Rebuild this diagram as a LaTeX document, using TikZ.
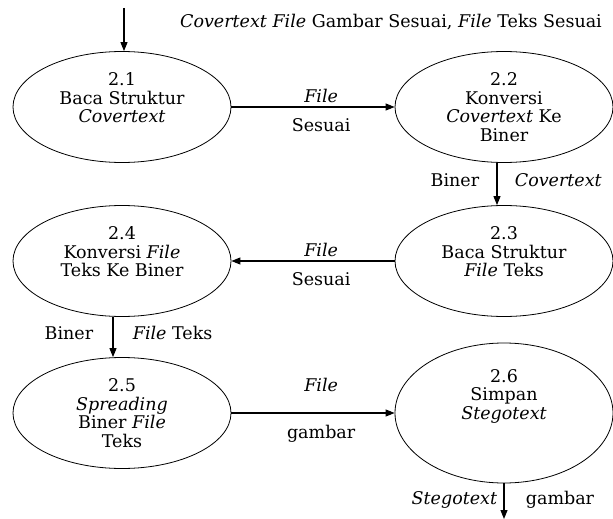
\documentclass[tikz,border=0pt]{standalone}
\usepackage{fontspec}
\setmainfont{DejaVu Serif}
\usetikzlibrary{arrows.meta, shapes, positioning}

\begin{document}
\begin{tikzpicture}[->,>={Triangle[length=9pt,width=7pt]},x=1pt,y=-1pt,
  line width=1.1pt, node distance=382pt,
  font=\fontsize{17.5}{18.5}\selectfont,
  proc node/.style={ellipse,draw,line width=0.8pt,inner sep=0pt,align=center,
    minimum width=218pt,minimum height=111pt}]
  \useasboundingbox (0,0) rectangle (613,519);
  \node[proc node] (21) at (122,107) {2.1\\Baca Struktur\\\textit{Covertext}\\\mbox{}};
  \node[proc node, right of = 21] (22) {2.2\\Konversi\\\textit{Covertext} Ke\\Biner};
  \node[proc node, below of = 22, node distance=154pt] (23) {2.3\\Baca Struktur\\\textit{File} Teks\\\mbox{}};
  \node[proc node, left of = 23] (24) {2.4\\Konversi \textit{File}\\Teks Ke Biner\\\mbox{}};
  \node[proc node, below of = 24, node distance=152pt] (25) {2.5\\\textit{Spreading}\\Biner \textit{File}\\Teks};
  \node[proc node, right of = 25, minimum height=140pt] (26) {2.6\\Simpan\\\textit{Stegotext}\\\mbox{}\\\mbox{}};
  \node[inner sep=0pt] (top) at (391,22) {\textit{Covertext File} Gambar Sesuai, \textit{File} Teks Sesuai};
  \coordinate (in) at (124,8);
  \coordinate (out) at (504,519);
  \path
    (in) edge (in |- 21.north)
    (21) edge node[pos=.55, above] {\textit{File}} node[pos=.55, below=8pt] {Sesuai} (22)
    ([xshift=-7pt]22.south) edge node[pos=.4, left=14pt] {Biner}
      node[pos=.4, right=14pt] {\textit{Covertext}} ([xshift=-7pt]22.south |- 23.north)
    (23) edge node[pos=.45, above] {\textit{File}} node[pos=.45, below=8pt] {Sesuai} (24)
    ([xshift=-9pt]24.south) edge node[pos=.4, left=16pt] {Biner}
      node[pos=.4, right=16pt] {\textit{File} Teks} ([xshift=-9pt]24.south |- 25.north)
    (25) edge node[pos=.55, above=17pt] {\textit{File}} node[pos=.55, below=8pt] {gambar} (26)
    (26.south) edge node[pos=.47, left=3pt] {\textit{Stegotext}} node[pos=.47, right=18pt] {gambar} (out);
\end{tikzpicture}
\end{document}
